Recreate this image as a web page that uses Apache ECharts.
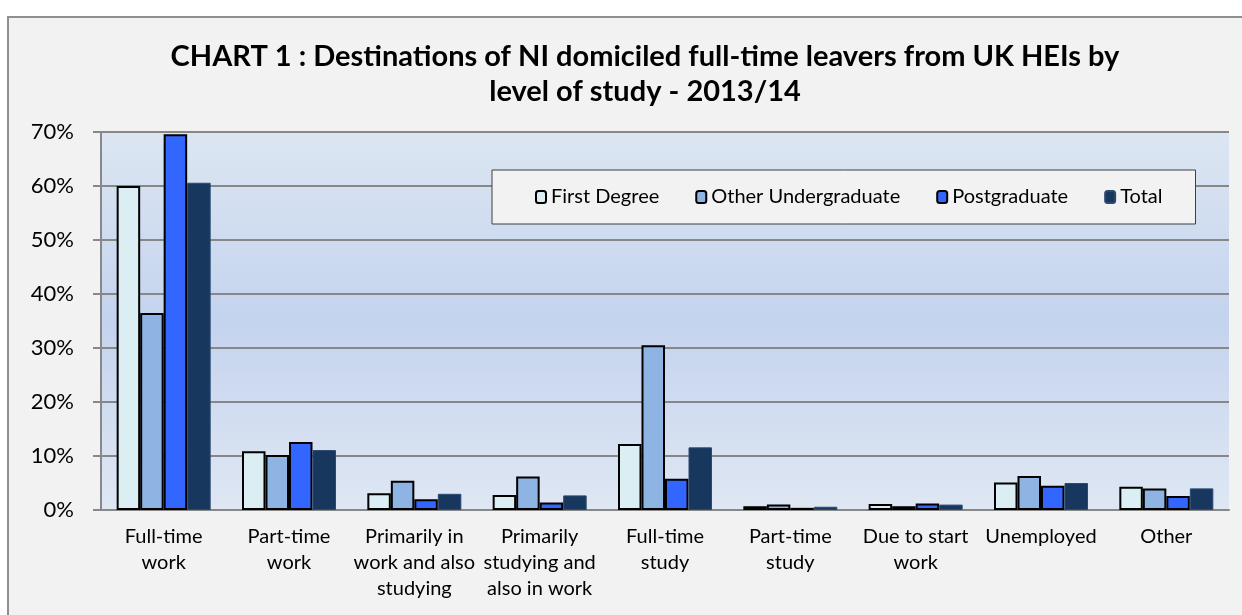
<!DOCTYPE html>
<html>
<head>
<meta charset="utf-8">
<script src="https://cdn.jsdelivr.net/npm/echarts@6/dist/echarts.min.js"></script>
<style>
  html, body { margin: 0; padding: 0; background: #ffffff; overflow: hidden; }
  #frame {
    position: absolute; left: 7px; top: 16px;
    width: 1300px; height: 700px;
    border: 2px solid #8f8f8f;
    background: #f2f2f2;
  }
  #main { position: absolute; left: 9px; top: 18px; width: 1233px; height: 597px; }
</style>
</head>
<body>
<div id="frame"></div>
<div id="main"></div>
<script>
  // categories along the x axis
  var categories = [
    'Full-time\nwork',
    'Part-time\nwork',
    'Primarily in\nwork and also\nstudying',
    'Primarily\nstudying and\nalso in work',
    'Full-time\nstudy',
    'Part-time\nstudy',
    'Due to start\nwork',
    'Unemployed',
    'Other'
  ];
  // percentages
  var firstDegree = [60.0, 10.9, 3.1, 2.8, 12.2, 0.7, 1.1, 5.1, 4.3];
  var otherUndergraduate = [36.5, 10.2, 5.4, 6.2, 30.5, 1.0, 0.7, 6.3, 4.0];
  var postgraduate = [69.6, 12.6, 2.0, 1.4, 5.8, 0.4, 1.2, 4.5, 2.6];
  var total = [60.6, 11.1, 3.0, 2.7, 11.6, 0.6, 1.0, 5.0, 4.0];

  var font = 'Lato, "Open Sans", sans-serif';

  var chart = echarts.init(document.getElementById('main'));

  function barSeries(name, data, color, border, borderWidth) {
    return {
      name: name,
      type: 'bar',
      data: data,
      barGap: 0,
      barCategoryGap: '25%',
      itemStyle: { color: color, borderColor: border, borderWidth: borderWidth },
      emphasis: { disabled: true }
    };
  }

  chart.setOption({
    backgroundColor: 'transparent',
    animation: false,
    textStyle: { fontFamily: font },
    title: {
      text: 'CHART 1 : Destinations of NI domiciled full-time leavers from UK HEIs by\nlevel of study - 2013/14',
      left: 631,
      top: 16,
      textAlign: 'center',
      textStyle: {
        fontFamily: font,
        fontWeight: 'bold',
        fontSize: 29,
        lineHeight: 35,
        color: '#000'
      }
    },
    legend: {
      left: 483,
      top: 152,
      padding: [17, 33, 17, 43],
      itemGap: 36,
      itemWidth: 10,
      itemHeight: 12,
      backgroundColor: '#f2f2f2',
      borderColor: '#404040',
      borderWidth: 1,
      borderRadius: 0,
      textStyle: { fontFamily: font, fontSize: 20, color: '#000' },
      data: ['First Degree', 'Other Undergraduate', 'Postgraduate', 'Total']
    },
    grid: {
      left: 92,
      top: 114,
      right: 13,
      bottom: 105,
      show: true,
      borderWidth: 0,
      backgroundColor: {
        type: 'linear', x: 0, y: 0, x2: 0, y2: 1,
        colorStops: [
          { offset: 0, color: '#dce6f2' },
          { offset: 0.5, color: '#c4d3ee' },
          { offset: 1, color: '#dfe7f3' }
        ]
      }
    },
    xAxis: {
      type: 'category',
      data: categories,
      axisLine: { lineStyle: { color: '#888', width: 2 } },
      axisTick: { show: false },
      axisLabel: {
        interval: 0,
        margin: 14,
        fontSize: 20,
        lineHeight: 26,
        color: '#000',
        fontFamily: font
      }
    },
    yAxis: {
      type: 'value',
      min: 0,
      max: 70,
      interval: 10,
      axisLine: { show: true, lineStyle: { color: '#888', width: 2 } },
      axisTick: { show: true, length: 8, lineStyle: { color: '#888', width: 2 } },
      axisLabel: {
        formatter: '{value}%',
        margin: 27,
        fontSize: 22,
        color: '#000',
        fontFamily: font
      },
      splitLine: { lineStyle: { color: '#878787', width: 2 } }
    },
    series: [
      barSeries('First Degree', firstDegree, '#daeef3', '#000', 2),
      barSeries('Other Undergraduate', otherUndergraduate, '#8eb4e3', '#000', 2),
      barSeries('Postgraduate', postgraduate, '#3366ff', '#000', 2),
      barSeries('Total', total, '#17375e', '#2a4a70', 1)
    ]
  });
</script>
</body>
</html>
